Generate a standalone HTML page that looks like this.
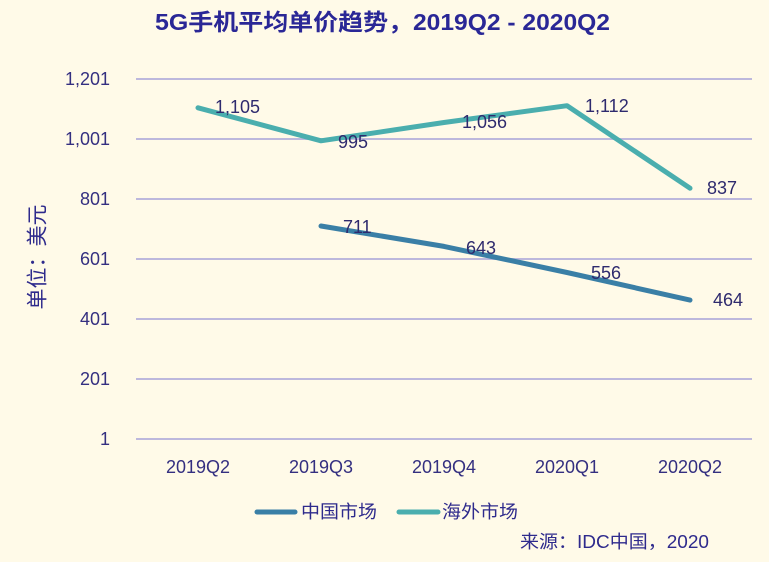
<!DOCTYPE html>
<html><head><meta charset="utf-8"><style>
html,body{margin:0;padding:0;background:#fffae8;}
svg{display:block;}
text{font-family:"Liberation Sans","Noto Sans CJK SC",sans-serif;}
</style></head><body>
<svg width="769" height="562" viewBox="0 0 769 562" xmlns="http://www.w3.org/2000/svg">
<rect width="769" height="562" fill="#fffae8"/>
<text x="155" y="30" font-size="23" font-weight="bold" fill="#2a2796" textLength="258" lengthAdjust="spacingAndGlyphs">5G手机平均单价趋势，</text>
<text x="413" y="30" font-size="23" font-weight="bold" fill="#2a2796" textLength="197" lengthAdjust="spacingAndGlyphs">2019Q2 - 2020Q2</text>
<g stroke="#bdb8dc" stroke-width="2">
<line x1="136" y1="79" x2="752" y2="79"/>
<line x1="136" y1="139" x2="752" y2="139"/>
<line x1="136" y1="199" x2="752" y2="199"/>
<line x1="136" y1="259" x2="752" y2="259"/>
<line x1="136" y1="319" x2="752" y2="319"/>
<line x1="136" y1="379" x2="752" y2="379"/>
<line x1="136" y1="439" x2="752" y2="439"/>
</g>
<g font-size="18" fill="#342f80" text-anchor="end" dominant-baseline="central">
<text x="110" y="79">1,201</text>
<text x="110" y="139">1,001</text>
<text x="110" y="199">801</text>
<text x="110" y="259">601</text>
<text x="110" y="319">401</text>
<text x="110" y="379">201</text>
<text x="110" y="439">1</text>
</g>
<text transform="translate(38,257) rotate(-90)" font-size="21" fill="#2e2a8c" text-anchor="middle" dominant-baseline="central">单位：美元</text>
<g font-size="18" fill="#342f80" text-anchor="middle">
<text x="198" y="473">2019Q2</text>
<text x="321" y="473">2019Q3</text>
<text x="444" y="473">2019Q4</text>
<text x="567" y="473">2020Q1</text>
<text x="690" y="473">2020Q2</text>
</g>
<polyline points="198,107.8 321,140.8 444,122.5 567,105.7 690,188.2" fill="none" stroke="#4aaeae" stroke-width="5" stroke-linecap="round" stroke-linejoin="round"/>
<polyline points="321,226 444,246.4 567,272.5 690,300.1" fill="none" stroke="#3a7fa6" stroke-width="5" stroke-linecap="round" stroke-linejoin="round"/>
<g font-size="18" fill="#2e2a6e" dominant-baseline="central">
<text x="215" y="107">1,105</text>
<text x="338" y="142">995</text>
<text x="462" y="122">1,056</text>
<text x="585" y="106">1,112</text>
<text x="707" y="188">837</text>
<text x="343" y="227">711</text>
<text x="466" y="248">643</text>
<text x="591" y="273">556</text>
<text x="713" y="300">464</text>
</g>
<line x1="257" y1="512" x2="295" y2="512" stroke="#3a7fa6" stroke-width="5" stroke-linecap="round"/>
<text x="301" y="512" font-size="18" fill="#2e2a8c" dominant-baseline="central" textLength="76" lengthAdjust="spacingAndGlyphs">中国市场</text>
<line x1="399" y1="512" x2="438" y2="512" stroke="#4aaeae" stroke-width="5" stroke-linecap="round"/>
<text x="442" y="512" font-size="18" fill="#2e2a8c" dominant-baseline="central" textLength="76" lengthAdjust="spacingAndGlyphs">海外市场</text>
<text x="520" y="542" font-size="18" fill="#2e2a8c" dominant-baseline="central" textLength="189" lengthAdjust="spacingAndGlyphs">来源：IDC中国，2020</text>
</svg>
</body></html>
